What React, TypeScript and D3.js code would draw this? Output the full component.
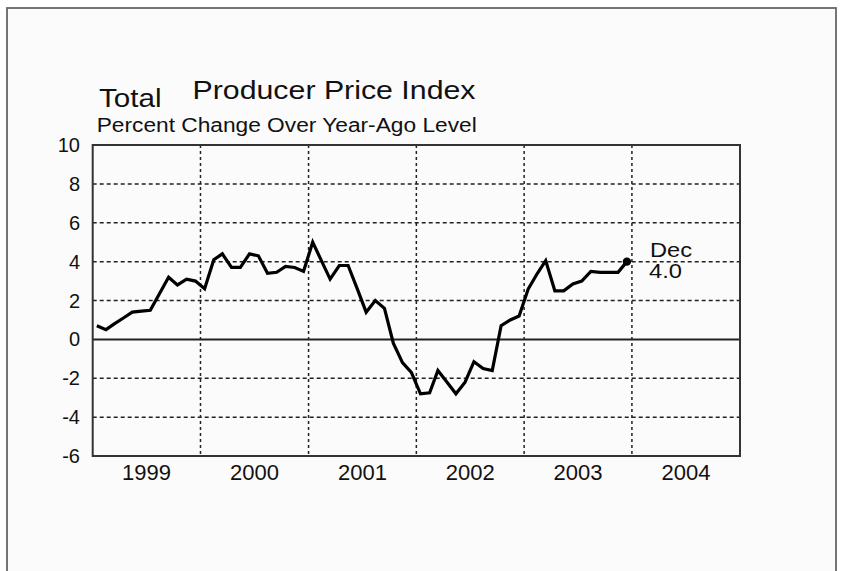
import React from "react";
import * as d3 from "d3";

// PPI, percent change over year-ago level (monthly)
const years = [1999, 2000, 2001, 2002, 2003];
const ppi1999 = [0.7, 0.5, 0.8, 1.1, 1.4, 1.45, 1.5, 2.35, 3.2, 2.8, 3.1, 3.0];
const ppi2000 = [2.6, 4.1, 4.4, 3.7, 3.7, 4.4, 4.3, 3.4, 3.45, 3.75, 3.7, 3.5];
const ppi2001 = [5.0, 4.0, 3.1, 3.8, 3.8, 2.6, 1.4, 2.0, 1.6, -0.2, -1.2, -1.7];
const ppi2002 = [-2.8, -2.75, -1.6, -2.2, -2.8, -2.2, -1.15, -1.5, -1.6, 0.7, 1.0, 1.2];
const ppi2003 = [2.6, 3.4, 4.05, 2.5, 2.5, 2.85, 3.0, 3.5, 3.45, 3.45, 3.45, 4.0];
const seriesByYear = [ppi1999, ppi2000, ppi2001, ppi2002, ppi2003];

const yTicks = [10, 8, 6, 4, 2, 0, -2, -4, -6];
const yearLabels = ["1999", "2000", "2001", "2002", "2003", "2004"];

const FONT = "'Liberation Sans', Arial, sans-serif";
const W = 842;
const H = 571;
const plot = { left: 92.7, right: 740, top: 145, bottom: 456 };

export default function App() {
  const x = d3
    .scaleTime()
    .domain([new Date(1999, 0, 1), new Date(2005, 0, 1)])
    .range([plot.left, plot.right]);
  const y = d3.scaleLinear().domain([-6, 10]).range([plot.bottom, plot.top]);

  const data = years.flatMap((yr, i) =>
    seriesByYear[i].map((v, m) => ({ date: new Date(yr, m, 15), value: v }))
  );
  const last = data[data.length - 1];

  const line = d3
    .line<{ date: Date; value: number }>()
    .x((d) => x(d.date))
    .y((d) => y(d.value));

  // year boundaries for the vertical grid
  const boundaries = yearLabels.slice(1).map((s) => new Date(+s, 0, 1));

  return (
    <svg
      width={W}
      height={H}
      style={{ position: "absolute", left: 0, top: 0, display: "block" }}
      fontFamily={FONT}
    >
      <rect x={0} y={0} width={W} height={H} fill="#ffffff" />
      <rect
        x={7}
        y={8}
        width={829}
        height={H + 10}
        fill="#fbfbfb"
        stroke="#666"
        strokeWidth={1.8}
      />

      {/* titles */}
      <text x={99} y={106.5} fontSize={25} fill="#111" textLength={62.5} lengthAdjust="spacingAndGlyphs">
        Total
      </text>
      <text x={192.5} y={99} fontSize={25} fill="#111" textLength={283} lengthAdjust="spacingAndGlyphs">
        Producer Price Index
      </text>
      <text x={96.7} y={131.7} fontSize={20} fill="#111" textLength={380} lengthAdjust="spacingAndGlyphs">
        Percent Change Over Year-Ago Level
      </text>

      {/* horizontal grid */}
      {yTicks
        .filter((t) => t !== 0 && t !== 10 && t !== -6)
        .map((t) => (
          <line
            key={"h" + t}
            x1={plot.left}
            x2={plot.right}
            y1={y(t)}
            y2={y(t)}
            stroke="#222"
            strokeWidth={1.5}
            strokeDasharray="4,3"
          />
        ))}

      {/* vertical grid at year boundaries */}
      {boundaries.slice(0, 5).map((d, i) => (
        <line
          key={"v" + i}
          x1={x(d)}
          x2={x(d)}
          y1={plot.top}
          y2={plot.bottom}
          stroke="#222"
          strokeWidth={1.5}
          strokeDasharray="3,3"
        />
      ))}

      {/* zero line */}
      <line x1={plot.left} x2={plot.right} y1={y(0)} y2={y(0)} stroke="#222" strokeWidth={2} />

      {/* frame */}
      <rect
        x={plot.left}
        y={plot.top}
        width={plot.right - plot.left}
        height={plot.bottom - plot.top}
        fill="none"
        stroke="#333"
        strokeWidth={2}
      />

      {/* y labels */}
      {yTicks.map((t) => (
        <text
          key={"yl" + t}
          x={80}
          y={y(t)}
          dy="0.35em"
          textAnchor="end"
          fontSize={20}
          fill="#111"
        >
          {t}
        </text>
      ))}

      {/* x labels centred in each year */}
      {yearLabels.map((s) => {
        const yr = +s;
        const cx = (x(new Date(yr, 0, 1)) + x(new Date(yr + 1, 0, 1))) / 2;
        return (
          <text
            key={"xl" + s}
            x={cx}
            y={479.5}
            textAnchor="middle"
            fontSize={22}
            fill="#111"
            textLength={49}
            lengthAdjust="spacingAndGlyphs"
          >
            {s}
          </text>
        );
      })}

      {/* series */}
      <path
        d={line(data) || ""}
        fill="none"
        stroke="#000"
        strokeWidth={3.2}
        strokeLinejoin="miter"
      />
      <circle cx={x(last.date)} cy={y(last.value)} r={4.2} fill="#000" />

      {/* annotation */}
      <text x={650} y={256.5} fontSize={20} fill="#111" textLength={42} lengthAdjust="spacingAndGlyphs">
        Dec
      </text>
      <text x={649} y={278} fontSize={20} fill="#111" textLength={33} lengthAdjust="spacingAndGlyphs">
        {last.value.toFixed(1)}
      </text>
    </svg>
  );
}
